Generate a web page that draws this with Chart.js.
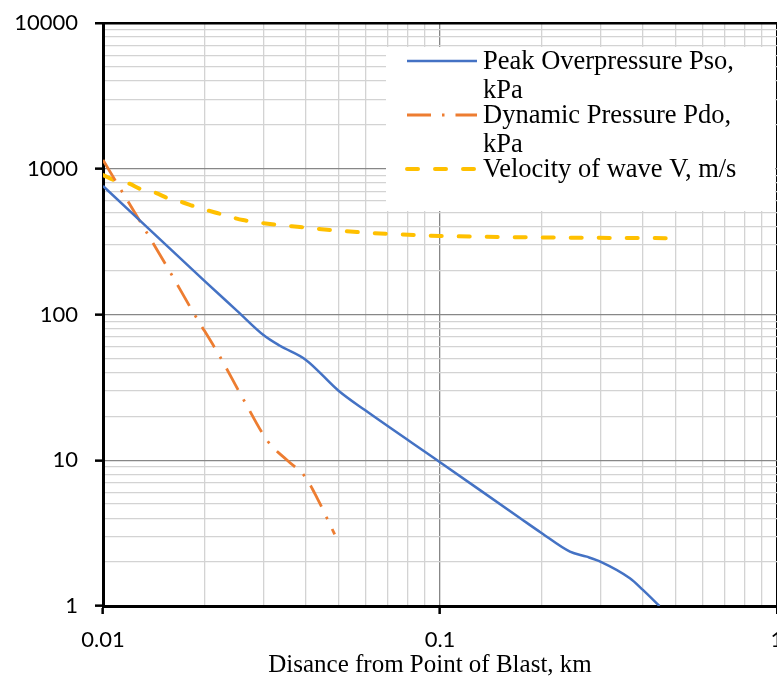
<!DOCTYPE html>
<html><head><meta charset="utf-8">
<script src="https://cdn.jsdelivr.net/npm/chart.js@4.4.1/dist/chart.umd.min.js"></script>
<style>
html,body{margin:0;padding:0;background:#fff;overflow:hidden;width:777px;height:679px}
#wrap{position:relative;width:777px;height:679px}
</style></head>
<body><div id="wrap"><canvas id="c" width="777" height="679"></canvas></div>
<script>
// ---- data ----
const seriesNames = ['Peak Overpressure Pso, kPa', 'Dynamic Pressure Pdo, kPa', 'Velocity of wave V, m/s'];
const psoDistance = [0.01, 0.02, 0.025, 0.03, 0.0335, 0.04, 0.05, 0.06, 0.1, 0.173, 0.2, 0.243, 0.2725, 0.3, 0.366, 0.4, 0.448];
const psoValues   = [762, 170, 106, 72, 61, 48.8, 30, 22, 9.7, 4.0, 3.17, 2.36, 2.18, 2.01, 1.55, 1.29, 1.0];
const pdoDistance = [0.01, 0.0155, 0.0185, 0.022, 0.026, 0.0309, 0.0352, 0.0398, 0.0432, 0.0487];
const pdoValues   = [1148, 212, 104, 53.6, 26.6, 13.4, 10, 7.7, 5.5, 3.1];
const velDistance = [0.01, 0.0109, 0.0119, 0.013, 0.0143, 0.0156, 0.0172, 0.0188, 0.0218, 0.026, 0.0313, 0.0384, 0.0472, 0.0567, 0.0711, 0.1, 0.2, 0.478];
const velValues   = [906, 828, 794, 722, 685, 627, 589, 549, 497, 445, 418, 398, 380, 368, 357, 346, 338, 334];
const xTickLabels = ['0.01', '0.1', '1'];
const yTickLabels = ['1', '10', '100', '1000', '10000'];
const xAxisTitle = 'Disance from Point of Blast, km';

const colors = ['#4472C4', '#ED7D31', '#FFC000'];

function pts(xs, ys) { return xs.map((x, i) => ({x: x, y: ys[i]})); }
function logTicks(labels) {
  const min = Number(labels[0]), max = Number(labels[labels.length - 1]);
  const out = [];
  for (let e = Math.round(Math.log10(min)); e <= Math.round(Math.log10(max)); e++) {
    for (let k = 1; k <= 9; k++) {
      const v = parseFloat((k * Math.pow(10, e)).toPrecision(6));
      if (v <= max * 1.0000001) out.push({value: v});
    }
  }
  return out;
}
function isDecade(v) { const l = Math.log10(v); return Math.abs(l - Math.round(l)) < 1e-6; }
function labelFor(labels, v) {
  for (const s of labels) { if (Math.abs(Math.log10(Number(s)) - Math.log10(v)) < 1e-6) return s; }
  return '';
}
const MAJOR = '#878787', MINOR = '#d3d3d3';

const legendPlugin = {
  id: 'boxLegend',
  afterDatasetsDraw(chart) {
    const {ctx, chartArea: a} = chart;
    ctx.save();
    const boxL = a.right - 391, boxT = a.top + 24, boxR = a.right - 2, boxB = a.top + 188;
    ctx.fillStyle = '#fff';
    ctx.fillRect(boxL, boxT, boxR - boxL, boxB - boxT);
    ctx.font = '26.5px "Liberation Serif"';
    ctx.fillStyle = '#000';
    ctx.textAlign = 'left';
    ctx.textBaseline = 'alphabetic';
    const textX = a.right - 294, symL = a.right - 370, symR = a.right - 300;
    const maxW = a.right - textX - 4;
    const entryBase = [a.top + 46, a.top + 100, a.top + 154];
    chart.data.datasets.forEach((ds, i) => {
      const base = entryBase[i];
      ctx.save();
      ctx.strokeStyle = ds.borderColor;
      ctx.lineWidth = ds.borderWidth;
      ctx.lineCap = ds.borderCapStyle || 'butt';
      ctx.setLineDash(ds.borderDash || []);
      ctx.beginPath();
      ctx.moveTo(symL, base - 8);
      ctx.lineTo(symR, base - 8);
      ctx.stroke();
      ctx.restore();
      const words = ds.label.split(' ');
      const lines = [];
      let cur = '';
      words.forEach(w => {
        const t = cur ? cur + ' ' + w : w;
        if (ctx.measureText(t).width > maxW && cur) { lines.push(cur); cur = w; } else cur = t;
      });
      if (cur) lines.push(cur);
      lines.forEach((ln, j) => ctx.fillText(ln, textX, base + j * 29));
    });
    ctx.restore();
  },
  afterDraw(chart) {
    const {ctx, chartArea: a} = chart;
    ctx.save();
    ctx.font = '25px "Liberation Serif"';
    ctx.fillStyle = '#000';
    ctx.textAlign = 'center';
    ctx.textBaseline = 'middle';
    ctx.fillText(xAxisTitle, (a.left + a.right) / 2 - 10, chart.height - 14);
    ctx.restore();
  }
};

function gridColor(max) {
  return (c) => {
    const v = c.tick && c.tick.value;
    if (v === undefined) return MINOR;
    if (Math.abs(Math.log10(v) - Math.log10(max)) < 1e-6) return '#000';
    return isDecade(v) ? MAJOR : MINOR;
  };
}
function gridWidth(max) {
  return (c) => {
    const v = c.tick && c.tick.value;
    if (v !== undefined && Math.abs(Math.log10(v) - Math.log10(max)) < 1e-6) return 2.5;
    return 1.3;
  };
}
function tickColor(c) {
  const v = c.tick && c.tick.value;
  return (v !== undefined && isDecade(v)) ? '#000' : 'rgba(0,0,0,0)';
}

const xMax = Number(xTickLabels[xTickLabels.length - 1]);
const yMax = Number(yTickLabels[yTickLabels.length - 1]);

new Chart(document.getElementById('c'), {
  type: 'line',
  data: {
    datasets: [
      {label: seriesNames[0], data: pts(psoDistance, psoValues), borderColor: colors[0], borderWidth: 2.5,
       pointRadius: 0, cubicInterpolationMode: 'monotone', fill: false},
      {label: seriesNames[1], data: pts(pdoDistance, pdoValues), borderColor: colors[1], borderWidth: 2.8,
       borderDash: [24, 11, 2.5, 11], pointRadius: 0, cubicInterpolationMode: 'monotone', fill: false},
      {label: seriesNames[2], data: pts(velDistance, velValues), borderColor: colors[2], borderWidth: 4,
       borderDash: [11, 17], borderCapStyle: 'round', pointRadius: 0, cubicInterpolationMode: 'monotone', fill: false}
    ]
  },
  options: {
    responsive: false,
    animation: false,
    events: [],
    layout: {padding: {top: 23, left: 0, right: 0, bottom: 0}},
    plugins: {legend: {display: false}, tooltip: {enabled: false}, title: {display: false}},
    scales: {
      x: {
        type: 'logarithmic',
        min: Number(xTickLabels[0]), max: xMax,
        afterBuildTicks: (s) => { s.ticks = logTicks(xTickLabels); },
        afterFit: (s) => { s.height = 73; s.paddingRight = 0; s.paddingLeft = 0; },
        border: {display: true, color: '#000', width: 3},
        grid: {color: gridColor(xMax), lineWidth: gridWidth(xMax), drawTicks: true, tickLength: 8,
               tickColor: tickColor, tickWidth: 2.5},
        ticks: {autoSkip: false, maxRotation: 0, padding: 13, color: '#000',
                font: {family: 'Lato', size: 22},
                callback: (v) => labelFor(xTickLabels, v)}
      },
      y: {
        type: 'logarithmic',
        min: Number(yTickLabels[0]), max: yMax,
        afterBuildTicks: (s) => { s.ticks = logTicks(yTickLabels); },
        afterFit: (s) => { s.width = 103; s.paddingTop = 0; s.paddingBottom = 0; },
        border: {display: true, color: '#000', width: 3},
        grid: {color: gridColor(yMax), lineWidth: gridWidth(yMax), drawTicks: true, tickLength: 8,
               tickColor: tickColor, tickWidth: 2.5},
        ticks: {autoSkip: false, padding: 17, color: '#000',
                font: {family: 'Lato', size: 22},
                callback: (v) => labelFor(yTickLabels, v)}
      }
    }
  },
  plugins: [legendPlugin]
});
</script>
</body></html>
